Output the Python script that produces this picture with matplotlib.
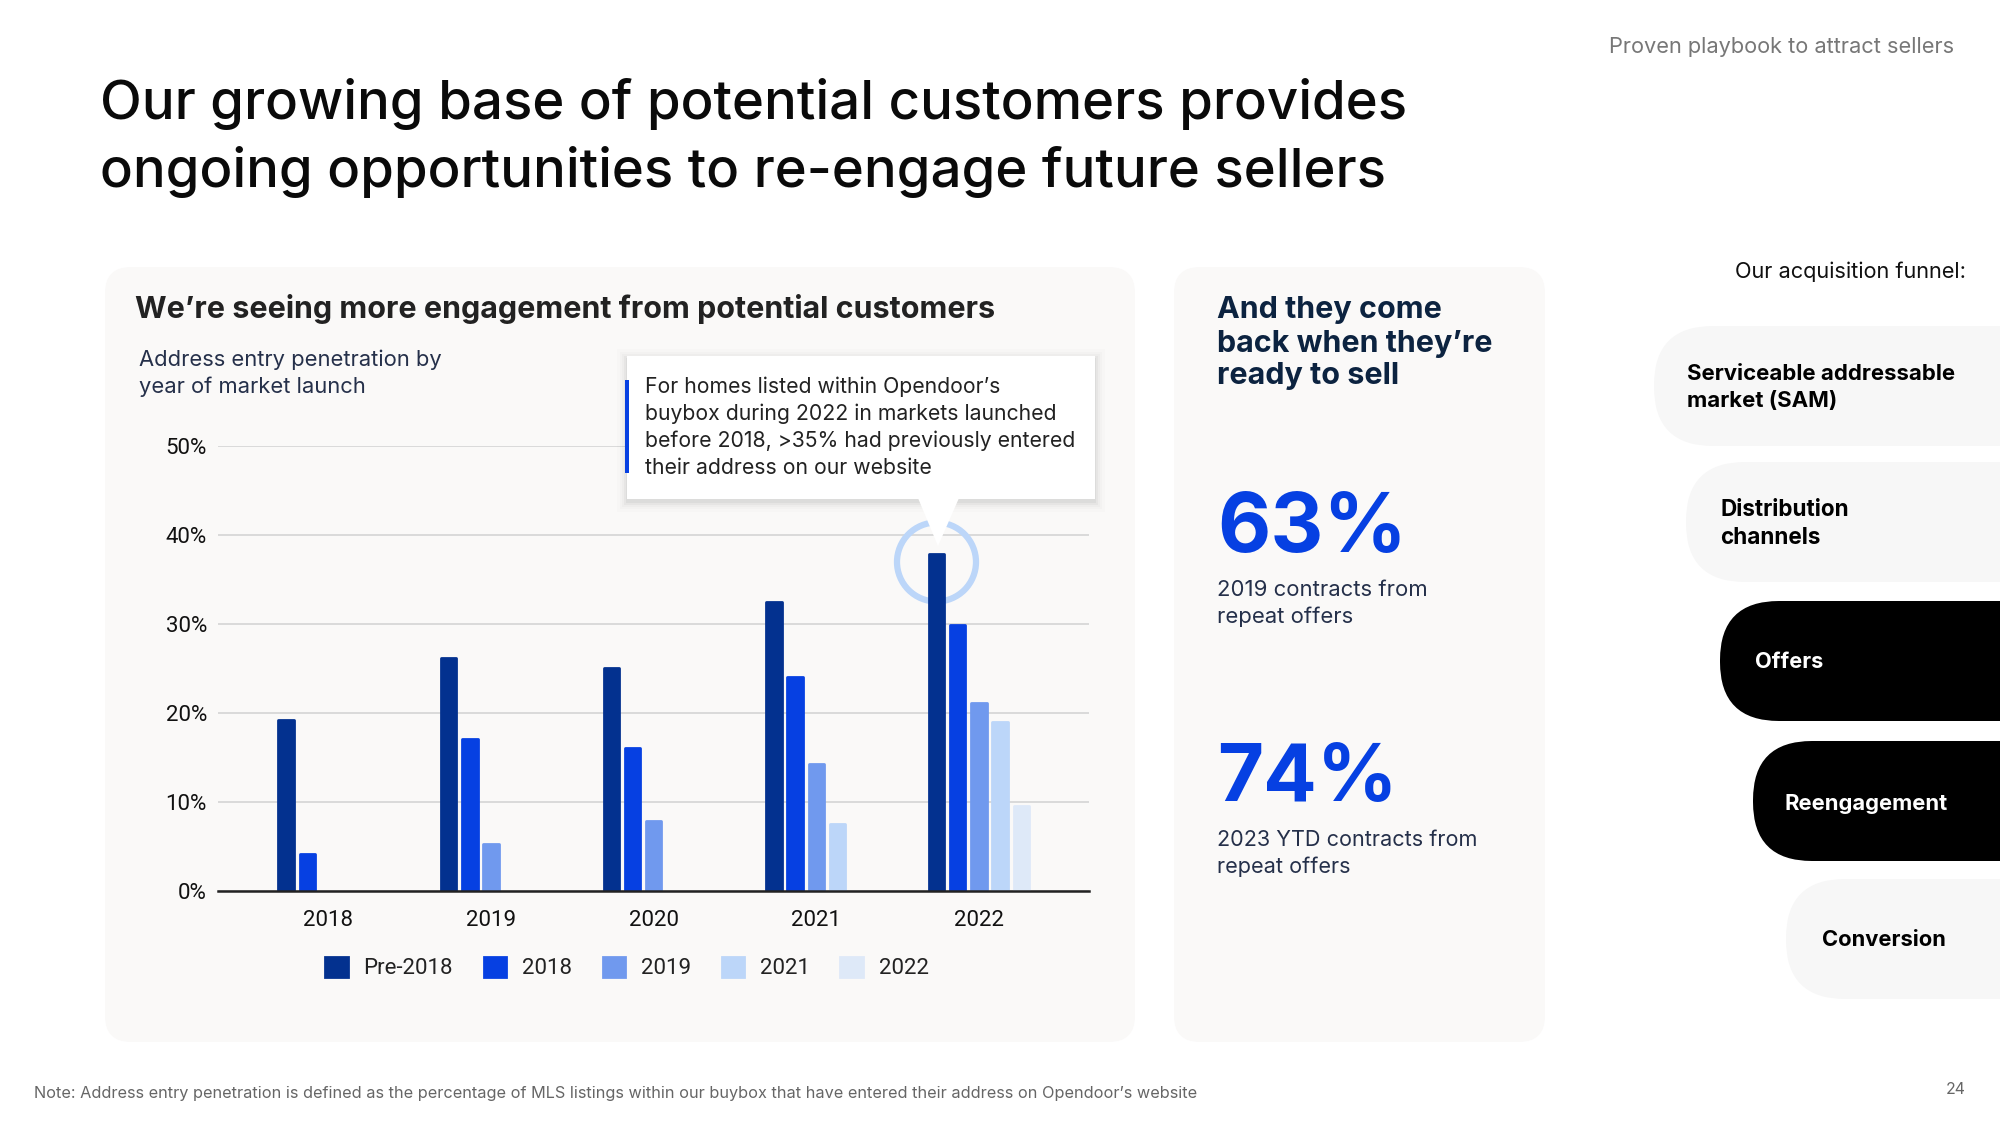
import numpy as np
import matplotlib
matplotlib.use("Agg")
import matplotlib.pyplot as plt
from matplotlib.patches import FancyBboxPatch, Rectangle, Polygon, Circle

plt.rcParams['font.family'] = ['Inter', 'DejaVu Sans']

# ---------- data ----------
years = ['2018', '2019', '2020', '2021', '2022']
pre_2018 = [19.2, 26.1, 25.0, 32.4, 37.8]
c_2018 = [4.1, 17.0, 16.0, 24.0, 29.9]
c_2019 = [np.nan, 5.2, 7.8, 14.2, 21.1]
c_2021 = [np.nan, np.nan, np.nan, 7.5, 19.0]
c_2022 = [np.nan, np.nan, np.nan, np.nan, 9.5]
series_names = ['Pre-2018', '2018', '2019', '2021', '2022']
series_values = [pre_2018, c_2018, c_2019, c_2021, c_2022]
series_colors = ['#03318F', '#0640E2', '#7099EE', '#BCD6F9', '#DEE9F8']
y_ticks = [0, 10, 20, 30, 40, 50]

NAVY = '#0C2340'
BLUE = '#0640E2'

fig = plt.figure(figsize=(20, 11.25), dpi=100, facecolor='white')
renderer = fig.canvas.get_renderer()

# pixel-space layers
bg = fig.add_axes([0, 0, 1, 1], zorder=0)
top = fig.add_axes([0, 0, 1, 1], zorder=2)
for a in (bg, top):
    a.set_xlim(0, 2000)
    a.set_ylim(1125, 0)
    a.axis('off')
    a.patch.set_alpha(0)


def put(ax, lines, x, ys, width, ha='left', color='#111111', weight='normal', dy=2.5):
    """Place lines of text; font size chosen so the longest line spans width px."""
    arts = [ax.text(x, y + dy, s, ha=ha, va='center', color=color, weight=weight, fontsize=20)
            for s, y in zip(lines, ys)]
    w = max(t.get_window_extent(renderer).width for t in arts)
    for t in arts:
        t.set_fontsize(20 * width / w)
    return arts


def panel(x0, y0, x1, y1, r, color):
    bg.add_patch(FancyBboxPatch((x0 + r, y0 + r), x1 - x0 - 2 * r, y1 - y0 - 2 * r,
                                boxstyle=f'round,pad={r},rounding_size={r}',
                                fc=color, ec='none', zorder=1))


# ---------- panels ----------
panel(105, 267, 1135, 1042, 26, '#FAF9F8')
panel(1174, 267, 1545, 1042, 26, '#FAF9F8')

# funnel pills
pills = [(1654, 326, '#F7F7F7'), (1686, 462, '#F7F7F7'), (1720, 601, '#000000'),
         (1753, 741, '#000000'), (1786, 879, '#F7F7F7')]
for px, py, col in pills:
    panel(px, py, 2100, py + 120, 59, col)

# ---------- title and texts ----------
put(bg, ['Our growing base of potential customers provides',
         'ongoing opportunities to re-engage future sellers'], 100, [100, 167], 1305,
    color='#0A0A0A', weight='medium', dy=4.5)
put(bg, ['Proven playbook to attract sellers'], 1954, [46], 346, ha='right', color='#777777', dy=1)
put(bg, ['We’re seeing more engagement from potential customers'], 135, [307], 861,
    color='#222222', weight='bold')
put(bg, ['Address entry penetration by', 'year of market launch'], 139, [359, 386], 302, color='#25304A', dy=1)

put(bg, ['And they come', 'back when they’re', 'ready to sell'], 1217, [309, 342, 375], 276,
    color=NAVY, weight='bold', dy=1.5)
put(bg, ['63%'], 1217, [523], 190, color=BLUE, weight='bold', dy=7)
put(bg, ['2019 contracts from', 'repeat offers'], 1217, [588, 614], 210, color='#25304A')
put(bg, ['74%'], 1217, [773], 180, color=BLUE, weight='bold', dy=7)
put(bg, ['2023 YTD contracts from', 'repeat offers'], 1217, [838, 864], 261, color='#25304A')

put(bg, ['Our acquisition funnel:'], 1966, [270], 231, ha='right', color='#111111', dy=1.5)
put(bg, ['Serviceable addressable', 'market (SAM)'], 1687, [373, 400], 268, color='#000000', weight='bold', dy=1.5)
put(bg, ['Distribution', 'channels'], 1720, [508, 536], 129, color='#000000', weight='bold')
put(bg, ['Offers'], 1755, [660], 68, color='#FFFFFF', weight='bold')
put(bg, ['Reengagement'], 1785, [801], 163, color='#FFFFFF', weight='bold')
put(bg, ['Conversion'], 1822, [939], 124, color='#000000', weight='bold', dy=1)

put(bg, ['Note: Address entry penetration is defined as the percentage of MLS listings within our buybox '
         'that have entered their address on Opendoor’s website'], 34, [1091], 1160, color='#666666')
put(bg, ['24'], 1966, [1088], 20, ha='right', color='#666666', dy=1)

# ---------- chart ----------
L, R, T0, B0 = 218, 1089, 445.8, 890.7
ax = fig.add_axes([L / 2000, 1 - B0 / 1125, (R - L) / 2000, (B0 - T0) / 1125], zorder=1)
ax.patch.set_alpha(0)
step = 162.6
ax.set_xlim((L - 328.5) / step, (R - 328.5) / step)
ax.set_ylim(0, 50)

pitch = 21.2 / step
bar_w = 15.5 / step
xs = np.arange(len(years))
for i, (name, vals, col) in enumerate(zip(series_names, series_values, series_colors)):
    ax.bar(xs + (i - 2) * pitch, vals, width=bar_w, color=col, edgecolor=col, linewidth=2,
           joinstyle='round', zorder=3, label=name)

ax.set_yticks(y_ticks)
ax.set_yticklabels([f'{v}%' for v in y_ticks], fontsize=16, family='Roboto', color='#111111')
ax.set_xticks(xs)
ax.set_xticklabels(years, fontsize=16, family='Roboto', color='#111111')
ax.tick_params(axis='both', length=0)
ax.tick_params(axis='y', pad=8)
ax.tick_params(axis='x', pad=14)
ax.set_axisbelow(True)
ax.grid(axis='y', color='#DADADA', linewidth=1.4)
ax.grid(axis='x', visible=False)
for s in ['top', 'right', 'left']:
    ax.spines[s].set_visible(False)
ax.spines['bottom'].set_color('#222222')
ax.spines['bottom'].set_linewidth(1.8)
ax.spines['bottom'].set_zorder(4)

# highlight ring around the top of the tallest bar
ax.add_patch(Circle((936.5, 562), 39.5, transform=bg.transData, fc='none', ec='#BCD6F9', lw=4.5,
                    zorder=2, clip_on=False))

leg = ax.legend(loc='center', bbox_to_anchor=(627, 968), bbox_transform=bg.transData, ncol=5, frameon=False,
                prop={'family': 'Roboto', 'size': 16}, handlelength=1.0, handleheight=1.0,
                handletextpad=0.72, columnspacing=1.38, borderpad=0, labelcolor='#222222')

# ---------- callout ----------
bx0, by0, bx1, by1 = 627, 356, 1095, 499
for g, al in [(10, 0.012), (7, 0.016), (5, 0.02), (3, 0.03), (1, 0.04)]:
    top.add_patch(Rectangle((bx0 - g, by0 - g + 3), bx1 - bx0 + 2 * g, by1 - by0 + 2 * g,
                            fc='black', ec='none', alpha=al))
top.add_patch(Rectangle((bx0, by0), bx1 - bx0, by1 - by0, fc='white', ec='none'))
top.add_patch(Polygon([(918, 498), (959, 498), (938, 546)], closed=True, fc='white', ec='none'))
top.add_patch(Rectangle((625, 380), 3.5, 93, fc=BLUE, ec='none'))
put(top, ['For homes listed within Opendoor’s', 'buybox during 2022 in markets launched',
          'before 2018, >35% had previously entered', 'their address on our website'],
    645, [386, 413, 440, 467], 430, color='#222222', dy=1.2)

fig.savefig('out.png', dpi=100, facecolor='white')
